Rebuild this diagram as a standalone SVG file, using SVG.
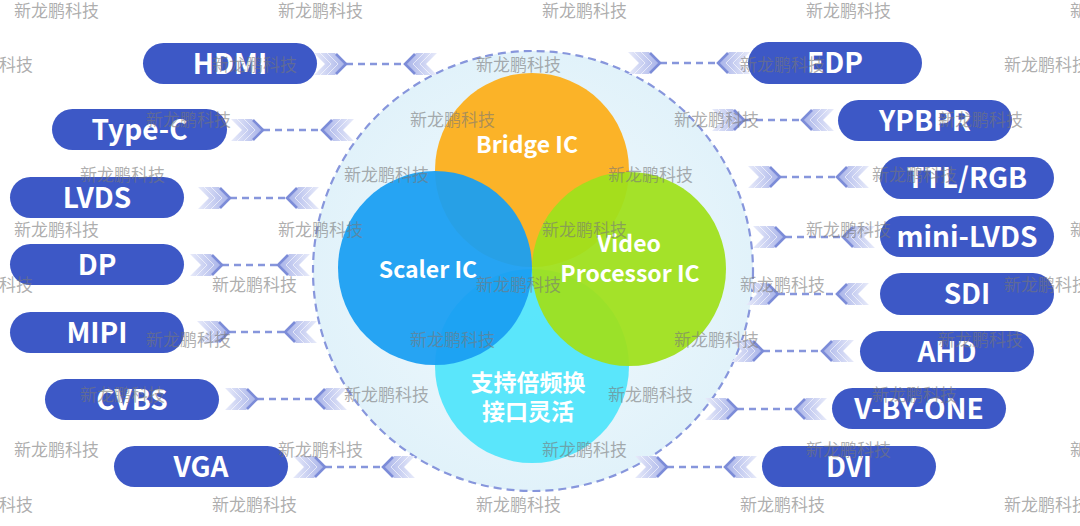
<svg xmlns="http://www.w3.org/2000/svg" xmlns:xlink="http://www.w3.org/1999/xlink" width="1080" height="526" viewBox="0 0 1080 526">
<style>
.pill{fill:#3d58c6}
.pt{fill:#fff;font-family:"Noto Sans CJK SC","Noto Sans",sans-serif;font-weight:700;font-size:28px;text-anchor:middle}
.ct{fill:#fff;font-family:"Noto Sans CJK SC","Noto Sans",sans-serif;font-weight:700;font-size:23px;text-anchor:middle}
.dash{stroke:#8796dc;stroke-width:2.5;stroke-dasharray:7 5;fill:none}
.wm{fill:#777;fill-opacity:0.6;font-family:"Noto Sans CJK SC",sans-serif;font-size:17px}
</style>
<defs>
<radialGradient id="bg" cx="0.5" cy="0.5" r="0.5">
<stop offset="0" stop-color="#f1f9fd"/>
<stop offset="1" stop-color="#e1f2fa"/>
</radialGradient>
<linearGradient id="cg" x1="-32" y1="0" x2="0" y2="0" gradientUnits="userSpaceOnUse">
<stop offset="0" stop-color="#e8ebfa"/>
<stop offset="1" stop-color="#a6b1e8"/>
</linearGradient>
<g id="chev">
<polygon points="-32,-11 -11,-11 0,0 -11,11 -32,11 -21,0" fill="url(#cg)"/>
<polyline points="-19,-11 -8,0 -19,11" fill="none" stroke="#fff" stroke-opacity="0.6" stroke-width="1"/>
<polyline points="-26,-11 -15,0 -26,11" fill="none" stroke="#fff" stroke-opacity="0.6" stroke-width="1"/>
<polyline points="-10,-10 0,0 -10,10" fill="none" stroke="#7c8cd8" stroke-width="2.6"/>
</g>
</defs>
<rect width="1080" height="526" fill="#fff"/>
<g id="hub">
<circle cx="533" cy="271" r="220" fill="url(#bg)" stroke="#8796dc" stroke-width="2.2" stroke-dasharray="8 5"/>
</g>
<g id="connectors">
<line class="dash" x1="346" y1="64" x2="405" y2="64"/>
<use xlink:href="#chev" transform="translate(346,64)"/>
<use xlink:href="#chev" transform="translate(405,64) scale(-1,1)"/>
<line class="dash" x1="263" y1="130" x2="322" y2="130"/>
<use xlink:href="#chev" transform="translate(263,130)"/>
<use xlink:href="#chev" transform="translate(322,130) scale(-1,1)"/>
<line class="dash" x1="230" y1="198" x2="287" y2="198"/>
<use xlink:href="#chev" transform="translate(230,198)"/>
<use xlink:href="#chev" transform="translate(287,198) scale(-1,1)"/>
<line class="dash" x1="222" y1="265" x2="278" y2="265"/>
<use xlink:href="#chev" transform="translate(222,265)"/>
<use xlink:href="#chev" transform="translate(278,265) scale(-1,1)"/>
<line class="dash" x1="229" y1="332" x2="285" y2="332"/>
<use xlink:href="#chev" transform="translate(229,332)"/>
<use xlink:href="#chev" transform="translate(285,332) scale(-1,1)"/>
<line class="dash" x1="257" y1="399" x2="315" y2="399"/>
<use xlink:href="#chev" transform="translate(257,399)"/>
<use xlink:href="#chev" transform="translate(315,399) scale(-1,1)"/>
<line class="dash" x1="325" y1="467" x2="383" y2="467"/>
<use xlink:href="#chev" transform="translate(325,467)"/>
<use xlink:href="#chev" transform="translate(383,467) scale(-1,1)"/>
<line class="dash" x1="660" y1="63" x2="718" y2="63"/>
<use xlink:href="#chev" transform="translate(660,63)"/>
<use xlink:href="#chev" transform="translate(718,63) scale(-1,1)"/>
<line class="dash" x1="744" y1="120" x2="802" y2="120"/>
<use xlink:href="#chev" transform="translate(744,120)"/>
<use xlink:href="#chev" transform="translate(802,120) scale(-1,1)"/>
<line class="dash" x1="780" y1="177" x2="837" y2="177"/>
<use xlink:href="#chev" transform="translate(780,177)"/>
<use xlink:href="#chev" transform="translate(837,177) scale(-1,1)"/>
<line class="dash" x1="785" y1="237" x2="843" y2="237"/>
<use xlink:href="#chev" transform="translate(785,237)"/>
<use xlink:href="#chev" transform="translate(843,237) scale(-1,1)"/>
<line class="dash" x1="778" y1="294" x2="837" y2="294"/>
<use xlink:href="#chev" transform="translate(778,294)"/>
<use xlink:href="#chev" transform="translate(837,294) scale(-1,1)"/>
<line class="dash" x1="763" y1="351" x2="822" y2="351"/>
<use xlink:href="#chev" transform="translate(763,351)"/>
<use xlink:href="#chev" transform="translate(822,351) scale(-1,1)"/>
<line class="dash" x1="737" y1="409" x2="795" y2="409"/>
<use xlink:href="#chev" transform="translate(737,409)"/>
<use xlink:href="#chev" transform="translate(795,409) scale(-1,1)"/>
<line class="dash" x1="667" y1="467" x2="725" y2="467"/>
<use xlink:href="#chev" transform="translate(667,467)"/>
<use xlink:href="#chev" transform="translate(725,467) scale(-1,1)"/>
</g>
<g id="bridge-ic"><circle cx="532" cy="170" r="97" fill="#fbb328"/></g>
<g id="interface"><circle cx="532" cy="366" r="97" fill="#52e5fb" fill-opacity="0.95"/></g>
<g id="scaler-ic"><circle cx="435" cy="268" r="97" fill="#1a9ef2" fill-opacity="0.94"/></g>
<g id="video-processor-ic"><circle cx="629" cy="269" r="97" fill="#9fe01c" fill-opacity="0.94"/></g>
<g id="labels">
<text class="ct" x="527" y="153">Bridge IC</text>
<text class="ct" x="428" y="278">Scaler IC</text>
<text class="ct" x="629" y="252">Video</text>
<text class="ct" x="630" y="282">Processor IC</text>
<text class="ct" x="528" y="391">支持倍频换</text>
<text class="ct" x="528" y="420">接口灵活</text>
</g>
<g id="hdmi"><rect class="pill" x="143" y="43" width="174" height="41" rx="20.5"/><text class="pt" x="230" y="73.5">HDMI</text></g>
<g id="type-c"><rect class="pill" x="52" y="109" width="175" height="41" rx="20.5"/><text class="pt" x="139.5" y="139.5">Type-C</text></g>
<g id="lvds"><rect class="pill" x="10" y="177" width="174" height="41" rx="20.5"/><text class="pt" x="97" y="207.5">LVDS</text></g>
<g id="dp"><rect class="pill" x="10" y="244" width="174" height="41" rx="20.5"/><text class="pt" x="97" y="274.5">DP</text></g>
<g id="mipi"><rect class="pill" x="10" y="312" width="174" height="41" rx="20.5"/><text class="pt" x="97" y="342.5">MIPI</text></g>
<g id="cvbs"><rect class="pill" x="45" y="379" width="174" height="41" rx="20.5"/><text class="pt" x="132" y="409.5">CVBS</text></g>
<g id="vga"><rect class="pill" x="114" y="446" width="174" height="41" rx="20.5"/><text class="pt" x="201" y="476.5">VGA</text></g>
<g id="edp"><rect class="pill" x="748" y="42" width="174" height="42" rx="21"/><text class="pt" x="835" y="73">EDP</text></g>
<g id="ypbpr"><rect class="pill" x="838" y="100" width="174" height="41" rx="20.5"/><text class="pt" x="925" y="130.5">YPBPR</text></g>
<g id="ttl-rgb"><rect class="pill" x="880" y="157" width="174" height="42" rx="21"/><text class="pt" x="967" y="188">TTL/RGB</text></g>
<g id="mini-lvds"><rect class="pill" x="880" y="216" width="174" height="41" rx="20.5"/><text class="pt" x="967" y="246.5">mini-LVDS</text></g>
<g id="sdi"><rect class="pill" x="880" y="273" width="174" height="42" rx="21"/><text class="pt" x="967" y="304">SDI</text></g>
<g id="ahd"><rect class="pill" x="860" y="331" width="174" height="41" rx="20.5"/><text class="pt" x="947" y="361.5">AHD</text></g>
<g id="v-by-one"><rect class="pill" x="832" y="388" width="174" height="41" rx="20.5"/><text class="pt" x="919" y="418.5">V-BY-ONE</text></g>
<g id="dvi"><rect class="pill" x="762" y="446" width="174" height="41" rx="20.5"/><text class="pt" x="849" y="476.5">DVI</text></g>
<g id="watermark" class="wm">
<text x="14" y="17">新龙鹏科技</text><text x="278" y="17">新龙鹏科技</text><text x="542" y="17">新龙鹏科技</text><text x="806" y="17">新龙鹏科技</text><text x="1070" y="17">新龙鹏科技</text>
<text x="-52" y="71">新龙鹏科技</text><text x="212" y="71">新龙鹏科技</text><text x="476" y="71">新龙鹏科技</text><text x="740" y="71">新龙鹏科技</text><text x="1004" y="71">新龙鹏科技</text>
<text x="146" y="126">新龙鹏科技</text><text x="410" y="126">新龙鹏科技</text><text x="674" y="126">新龙鹏科技</text><text x="938" y="126">新龙鹏科技</text>
<text x="80" y="181">新龙鹏科技</text><text x="344" y="181">新龙鹏科技</text><text x="608" y="181">新龙鹏科技</text><text x="872" y="181">新龙鹏科技</text>
<text x="14" y="236">新龙鹏科技</text><text x="278" y="236">新龙鹏科技</text><text x="542" y="236">新龙鹏科技</text><text x="806" y="236">新龙鹏科技</text><text x="1070" y="236">新龙鹏科技</text>
<text x="-52" y="291">新龙鹏科技</text><text x="212" y="291">新龙鹏科技</text><text x="476" y="291">新龙鹏科技</text><text x="740" y="291">新龙鹏科技</text><text x="1004" y="291">新龙鹏科技</text>
<text x="146" y="346">新龙鹏科技</text><text x="410" y="346">新龙鹏科技</text><text x="674" y="346">新龙鹏科技</text><text x="938" y="346">新龙鹏科技</text>
<text x="80" y="401">新龙鹏科技</text><text x="344" y="401">新龙鹏科技</text><text x="608" y="401">新龙鹏科技</text><text x="872" y="401">新龙鹏科技</text>
<text x="14" y="456">新龙鹏科技</text><text x="278" y="456">新龙鹏科技</text><text x="542" y="456">新龙鹏科技</text><text x="806" y="456">新龙鹏科技</text><text x="1070" y="456">新龙鹏科技</text>
<text x="-52" y="511">新龙鹏科技</text><text x="212" y="511">新龙鹏科技</text><text x="476" y="511">新龙鹏科技</text><text x="740" y="511">新龙鹏科技</text><text x="1004" y="511">新龙鹏科技</text>
</g>
</svg>
